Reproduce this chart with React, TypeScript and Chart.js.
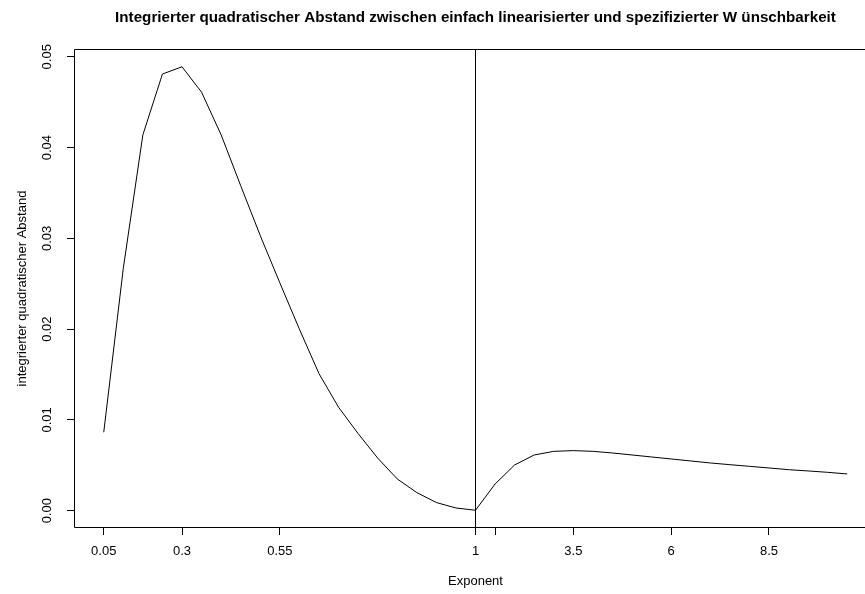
import React, { useEffect, useRef } from 'react';
import { Chart, registerables } from 'chart.js';

Chart.register(...registerables);

// Exponents (x categories, plotted at equal spacing by their position)
const exponents = [
  0.05, 0.1, 0.15, 0.2, 0.25, 0.3, 0.35, 0.4, 0.45, 0.5,
  0.55, 0.6, 0.65, 0.7, 0.75, 0.8, 0.85, 0.9, 0.95, 1.0,
  1.5, 2, 2.5, 3, 3.5, 4, 4.5, 5, 5.5, 6,
  6.5, 7, 7.5, 8, 8.5, 9, 9.5, 10, 10.5,
];

// Integrated squared distance
const distance = [
  0.00864, 0.0267, 0.0414, 0.0481, 0.0489, 0.0461, 0.0414, 0.0358, 0.0303, 0.0251,
  0.0200, 0.0151, 0.0114, 0.0085, 0.0058, 0.0035, 0.0020, 0.0009, 0.0003, 0.00005,
  0.00294, 0.00504, 0.00614, 0.00654, 0.00662, 0.00654, 0.00636, 0.00614, 0.00592, 0.0057,
  0.00548, 0.00526, 0.00507, 0.00489, 0.00471, 0.00452, 0.00438, 0.00423, 0.00405,
];

// X tick positions (index along the series) and their labels
const xTickPositions = [0, 4, 9, 19, 20, 24, 29, 34];
const xTickLabels = ['0.05', '0.3', '0.55', '1', '', '3.5', '6', '8.5'];

// Y ticks
const yTickValues = [0, 0.01, 0.02, 0.03, 0.04, 0.05];
const yTickLabels = ['0.00', '0.01', '0.02', '0.03', '0.04', '0.05'];

const referenceExponent = 1;

const titleText =
  'Integrierter quadratischer Abstand zwischen einfach linearisierter und spezifizierter W ünschbarkeit';
const xTitle = 'Exponent';
const yTitle = 'integrierter quadratischer Abstand';

const FONT = '"Liberation Sans", Arial, Helvetica, sans-serif';
const BASE = 13;

export default function App() {
  const ref = useRef<HTMLCanvasElement>(null);

  useEffect(() => {
    const canvas = ref.current;
    if (!canvas) return;

    const points = distance.map((v, i) => ({ x: i, y: v }));
    const n = distance.length;
    const xPad = (n - 1) * 0.04;
    const yLo = Math.min(...distance);
    const yHi = Math.max(...distance);
    const yPad = (yHi - yLo) * 0.04;
    const yMin = yLo - yPad;
    const yMax = yHi + yPad;
    const refIdx = exponents.indexOf(referenceExponent);

    const rAxisPlugin = {
      id: 'rAxis',
      afterDraw(chart: any) {
        const { ctx, chartArea } = chart;
        const ys = chart.scales.y;
        ctx.save();
        ctx.strokeStyle = '#000';
        ctx.lineWidth = 1;
        ctx.beginPath();
        const l = Math.round(chartArea.left) + 0.5;
        const t = Math.round(chartArea.top) + 0.5;
        const b = Math.round(chartArea.bottom) - 0.5;
        const r = Math.round(chartArea.right) - 0.5;
        ctx.moveTo(r, t);
        ctx.lineTo(l, t);
        ctx.lineTo(l, b);
        ctx.lineTo(r, b);
        ctx.lineTo(r, t);
        ctx.stroke();

        ctx.fillStyle = '#000';
        ctx.font = `${BASE}px ${FONT}`;
        ctx.textAlign = 'center';
        ctx.textBaseline = 'middle';
        yTickValues.forEach((v, i) => {
          const py = ys.getPixelForValue(v);
          ctx.save();
          ctx.translate(chartArea.left - 27, py);
          ctx.rotate(-Math.PI / 2);
          ctx.fillText(yTickLabels[i], 0, 0);
          ctx.restore();
        });
        ctx.restore();
      },
    };

    const chart = new Chart(canvas, {
      type: 'line',
      data: {
        datasets: [
          {
            data: points,
            borderColor: '#000',
            borderWidth: 1,
            pointRadius: 0,
            tension: 0,
            fill: false,
          },
          {
            data: [
              { x: refIdx, y: yMin - 1 },
              { x: refIdx, y: yMax + 1 },
            ],
            borderColor: '#000',
            borderWidth: 1,
            pointRadius: 0,
            fill: false,
          },
        ],
      },
      options: {
        animation: false,
        responsive: false,
        devicePixelRatio: 1,
        layout: { padding: { left: 0, right: 23, top: 0, bottom: 0 } },
        plugins: {
          legend: { display: false },
          tooltip: { enabled: false },
          title: {
            display: true,
            text: titleText,
            color: '#000',
            fullSize: false,
            font: { family: FONT, size: 15.2, weight: 'bold' },
            padding: { top: 9, bottom: 21.8 },
          },
        },
        scales: {
          x: {
            type: 'linear',
            min: -xPad,
            max: n - 1 + xPad,
            afterBuildTicks: (scale: any) => {
              scale.ticks = xTickPositions.map((v) => ({ value: v }));
            },
            afterFit: (scale: any) => {
              scale.height = 66;
            },
            border: { display: false },
            grid: {
              display: true,
              drawOnChartArea: false,
              drawTicks: true,
              tickLength: 7,
              color: '#000',
              tickColor: '#000',
            },
            ticks: {
              autoSkip: false,
              maxRotation: 0,
              minRotation: 0,
              padding: 8.5,
              color: '#000',
              font: { family: FONT, size: BASE },
              callback: (value: any) => {
                const k = xTickPositions.indexOf(Number(value));
                return k >= 0 ? xTickLabels[k] : '';
              },
            },
            title: {
              display: true,
              text: xTitle,
              color: '#000',
              font: { family: FONT, size: BASE },
              padding: { top: 0, bottom: 5.2 },
            },
          },
          y: {
            type: 'linear',
            min: yMin,
            max: yMax,
            afterBuildTicks: (scale: any) => {
              scale.ticks = yTickValues.map((v) => ({ value: v }));
            },
            afterFit: (scale: any) => {
              scale.width = 74;
            },
            border: { display: false },
            grid: {
              display: true,
              drawOnChartArea: false,
              drawTicks: true,
              tickLength: 7,
              color: '#000',
              tickColor: '#000',
            },
            ticks: { display: false },
            title: {
              display: true,
              text: yTitle,
              color: '#000',
              font: { family: FONT, size: BASE },
              padding: { top: 14.2, bottom: 0 },
            },
          },
        },
      },
      plugins: [rAxisPlugin],
    });

    return () => chart.destroy();
  }, []);

  return (
    <div
      style={{
        position: 'fixed',
        left: 0,
        top: 0,
        width: 865,
        height: 594,
        overflow: 'hidden',
        background: '#fff',
      }}
    >
      <canvas ref={ref} width={900} height={594} style={{ display: 'block' }} />
    </div>
  );
}
